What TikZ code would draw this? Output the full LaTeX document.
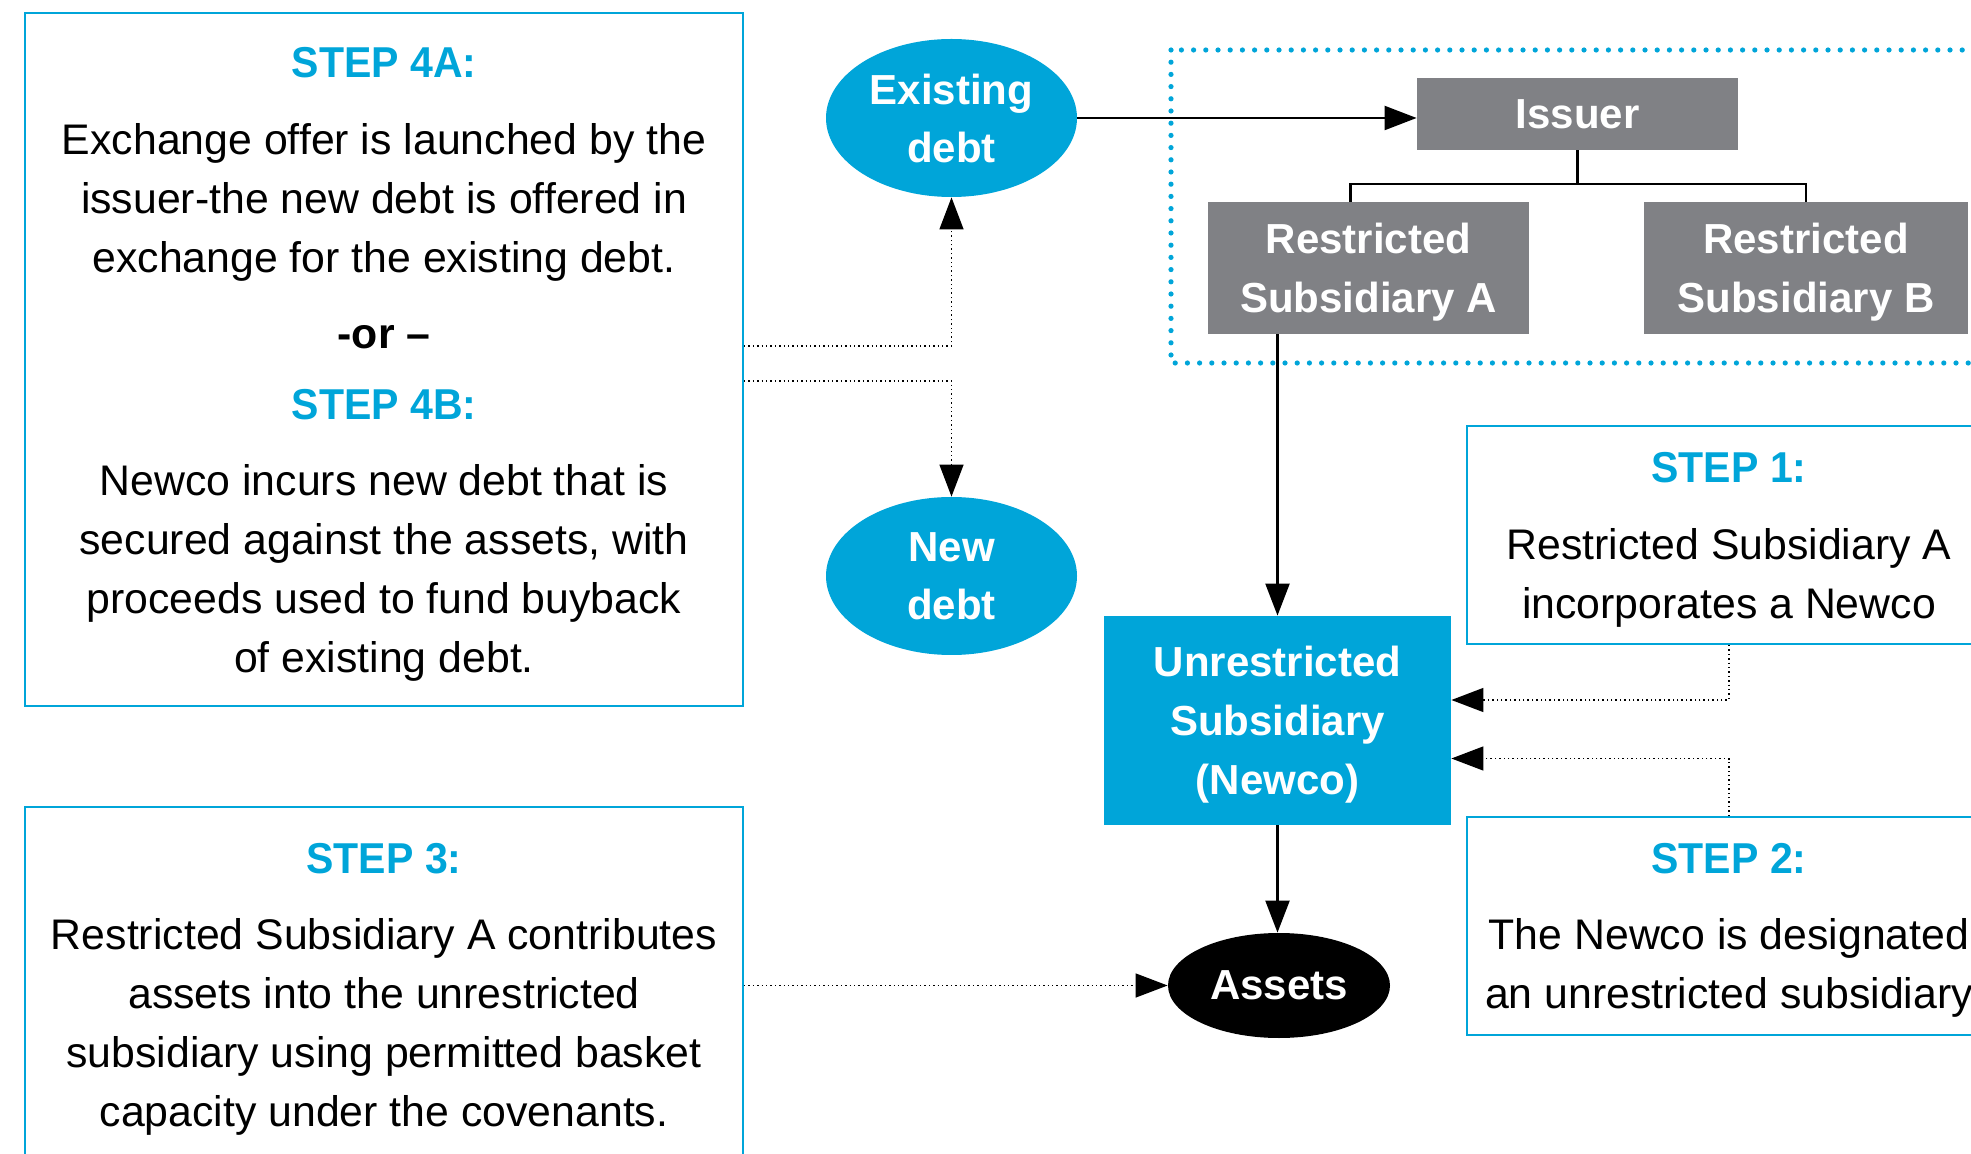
\documentclass[tikz,border=0pt]{standalone}
\usepackage{fontspec}
\setmainfont{Liberation Sans}
\newfontfamily\headfont{Liberation Sans}[FakeStretch=0.95]
\usetikzlibrary{arrows.meta,shapes.geometric,calc}

\definecolor{stepblue}{RGB}{0,165,217}
\definecolor{entgray}{RGB}{128,129,133}

\tikzset{
  stepbox/.style={draw=stepblue, line width=1pt, rectangle, inner sep=0pt},
  headtext/.style={text=stepblue, inner sep=0pt,
    font=\headfont\bfseries\fontsize{21.6}{26}\selectfont},
  bodytext/.style={align=center, inner sep=0pt, text depth=0pt,
    font=\fontsize{21.4}{29.5}\selectfont},
  entity/.style={fill=entgray, text=white, align=center, inner sep=0pt, text depth=0pt,
    font=\bfseries\fontsize{21}{29.5}\selectfont},
  debtnode/.style={ellipse, fill=stepblue, text=white, align=center, inner sep=0pt,
    minimum width=125.5pt, minimum height=79pt,
    font=\bfseries\fontsize{21}{29}\selectfont},
  solidarrow/.style={line width=1.1pt, -{Triangle[length=16pt,width=12pt]}},
  solidline/.style={line width=1.1pt},
  dotarrow/.style={line width=0.7pt, dash pattern=on 0.7pt off 1.5pt,
    -{Triangle[length=16pt,width=12pt]}},
  groupframe/.style={draw=stepblue, line width=2.6pt, line cap=round,
    dash pattern=on 0pt off 6.1pt}
}

\begin{document}
\begin{tikzpicture}[x=0.5pt, y=-0.5pt]
\useasboundingbox (0,0) rectangle (1971,1154);
\clip (0,0) rectangle (1971,1154);

% ---- step boxes ----
\node[stepbox, minimum width=359pt, minimum height=346.5pt] (a4) at (384,359.5) {};
\node[stepbox, minimum width=359pt, minimum height=191.5pt] (s3) at (384,998.5) {};
\node[stepbox, minimum width=262pt, minimum height=109pt] (s1) at (1729,535) {};
\node[stepbox, minimum width=262pt, minimum height=109pt] (s2) at (1729,926) {};

% step 4A / 4B text
\node[headtext] (h4a) at (384,63) {STEP 4A:};
\node[bodytext] (t4a) at (384,198) {Exchange offer is launched by the\\
  issuer-the new debt is offered in\\ exchange for the existing debt.};
\node[inner sep=0pt, font=\bfseries\fontsize{21.4}{26}\selectfont] (or) at (384,337) {-or –};
\node[headtext] (h4b) at (384,405) {STEP 4B:};
\node[bodytext] (t4b) at (384,568.5) {Newco incurs new debt that is\\
  secured against the assets, with\\ proceeds used to fund buyback\\ of existing debt.};

% step 3 text
\node[headtext] (h3) at (384,859) {STEP 3:};
\node[bodytext] (t3) at (384,1022.5) {Restricted Subsidiary A contributes\\
  assets into the unrestricted\\ subsidiary using permitted basket\\ capacity under the covenants.};

% step 1 and step 2 text
\node[headtext] (h1) at (1729,468) {STEP 1:};
\node[bodytext] (t1) at (1729,573) {Restricted Subsidiary A\\ incorporates a Newco};
\node[headtext] (h2) at (1729,859) {STEP 2:};
\node[bodytext] (t2) at (1729,963.5) {The Newco is designated\\ an unrestricted subsidiary};

% ---- restricted group frame ----
\draw[groupframe] (1171,50) rectangle (2010,363);

% ---- entities ----
\node[debtnode] (exist) at (951.5,118) {Existing\\debt};
\node[debtnode] (newdebt) at (951.5,576) {New\\debt};
\node[entity, minimum width=160.5pt, minimum height=36pt] (issuer) at (1577.5,114) {Issuer};
\node[entity, minimum width=160.5pt, minimum height=66pt] (ra) at (1368.5,268) {Restricted\\Subsidiary A};
\node[entity, minimum width=162pt, minimum height=66pt] (rb) at (1806,268) {Restricted\\Subsidiary B};
\node[entity, fill=stepblue, minimum width=173.5pt, minimum height=104.5pt] (unres) at (1277.5,720.5)
  {Unrestricted\\Subsidiary\\(Newco)};
\node[ellipse, fill=black, text=white, inner sep=0pt, minimum width=111pt, minimum height=52.5pt,
  font=\bfseries\fontsize{21}{26}\selectfont] (assets) at (1279,985.5) {Assets};

% ---- solid connectors ----
\draw[solidarrow] (exist.east) -- (exist.east -| issuer.west);
\draw[solidline] ([xshift=-9pt]ra.north) |- ($(issuer.south)+(0,33.5)$) -| (rb.north);
\draw[solidline] (issuer.south) -- ++(0,33.5);
\draw[solidarrow] (ra.south -| unres.north) -- (unres.north);
\draw[solidarrow] (unres.south) -- (unres.south |- assets.north);

% ---- dotted step connectors ----
\draw[dotarrow] ($(a4.east)+(0,-13.5)$) -| (exist.south);
\draw[dotarrow] ($(a4.east)+(0,21.5)$) -| (newdebt.north);
\draw[dotarrow] (s1.south) |- ($(unres.east)+(0,-20.5)$);
\draw[dotarrow] (s2.north) |- ($(unres.east)+(0,38)$);
\draw[dotarrow] (assets.west -| s3.east) -- (assets.west);
\end{tikzpicture}
\end{document}
